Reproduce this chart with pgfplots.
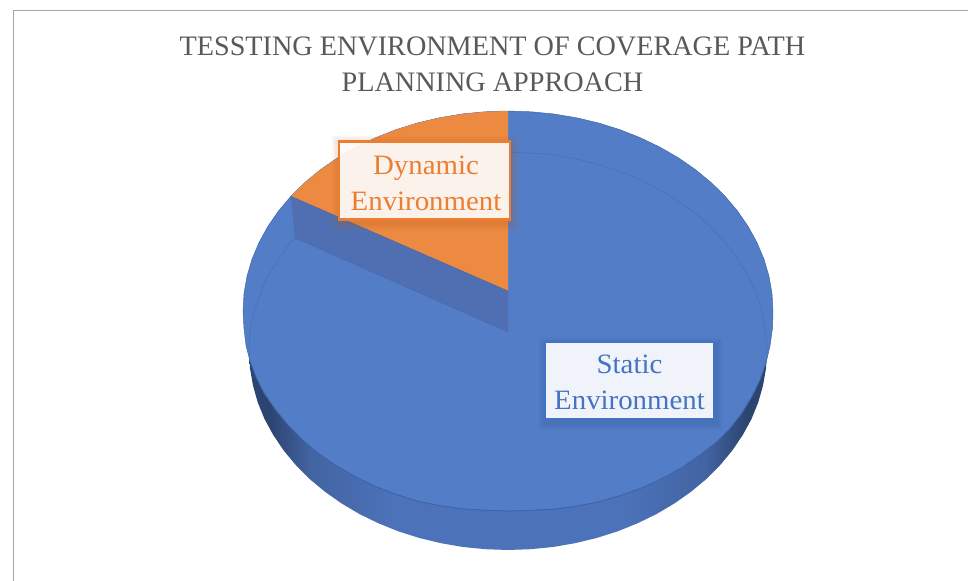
\documentclass[border=0pt]{standalone}
\usepackage{pgfplots}
\pgfplotsset{compat=1.18}
\usepackage{fontspec}
\setmainfont{Liberation Serif}
\newfontfamily\lblfont[FakeStretch=1.03]{Liberation Serif}
\definecolor{topblue}{HTML}{537EC7}
\definecolor{wallblue}{HTML}{4F6FB2}
\definecolor{rimblue}{HTML}{3D64A9}
\definecolor{pieorange}{HTML}{EC8A42}
\definecolor{lblorange}{HTML}{ED7D31}
\definecolor{lblblue}{HTML}{4472C4}
\definecolor{sdark}{HTML}{2C4470}
\definecolor{smid}{HTML}{4C72B9}
\definecolor{titlegray}{HTML}{595959}
\pgfdeclarehorizontalshading{pieside}{100bp}{
 color(0bp)=(sdark); color(25bp)=(sdark); color(27bp)=(sdark); color(31bp)=(smid!70!sdark); color(39bp)=(smid);
 color(61bp)=(smid); color(69bp)=(smid!70!sdark); color(73bp)=(sdark); color(75bp)=(sdark); color(100bp)=(sdark)}
\begin{document}
\begin{tikzpicture}
\useasboundingbox (0,0) rectangle (726pt,435.75pt);
\begin{axis}[
  at={(0,0)}, anchor=south west,
  scale only axis, width=726pt, height=435.75pt,
  xmin=0, xmax=968, ymin=0, ymax=581, y dir=reverse,
  axis lines=none, clip=true]
% chart frame
\addplot[color=black!35, line width=1.1pt] coordinates {(13.5,581) (13.5,10.5) (968,10.5)};
% side wall (lower half of the bottom rim)
\addplot[draw=none, shade, shading=pieside] coordinates {
(767,351)(766,368.4)(763,385.6)(758.2,402.5)(751.5,419)(742.7,435.1)(732.3,450.5)(720.2,465.1)(706.4,479)(691.1,491.7)(674.5,503.4)(656.6,514)(637.5,523.3)(617.5,531.4)(596.6,538)(575,543.2)(553,547)(530.6,549.2)(508,550)
(485.4,549.2)(463,547)(441,543.2)(419.4,538)(398.5,531.4)(378.5,523.3)(359.4,514)(341.5,503.4)(324.9,491.7)(309.6,479)(295.8,465.1)(283.7,450.5)(273.3,435.1)(264.5,419)(257.8,402.5)(253,385.6)(250,368.4)(249,351)
} -- cycle;
% top face: Static Environment
\addplot[fill=topblue, draw=rimblue, line width=0.35pt] coordinates {
(508,111)(531.1,111.8)(554,114)(576.6,117.8)(598.6,123)(620,129.7)(640.5,137.8)(660,147.2)(678.4,157.8)(695.4,169.6)(711,182.4)(725.1,196.3)(737.5,211)(748.2,226.5)(757,242.6)(764,259.2)(769,276.3)(772,293.6)(773,311)
(772.5,328)(770,346)(766,363)(760,380)(752,396.5)(742,413)(730,428.5)(716,442.5)(700,455)(682,467.5)(663,478)(643,487.5)(622,495)(600,501.5)(577.5,506)(554.5,509)(531.1,510.4)(508,511)
(484.9,510.2)(461.8,508.8)(439,505.5)(417,501)(395,494)(374.5,486)(355,476.5)(336,465.5)(318,453)(302,439.5)(287.5,424.5)(275,409)(264,393)(256,377)(250,361)(246,345.5)(244,328.4)(243,311)
(244,293.6)(247,276.3)(252,259.2)(259,242.6)(267.8,226.5)(278.5,211)(290.9,196.3)(305,182.4)(320.6,169.6)(337.6,157.8)(356,147.2)(375.5,137.8)(396,129.7)(417.4,123)(439.4,117.8)(462,114)(484.9,111.8)
} -- cycle;
% faint back rim seen through the face
\addplot[color=rimblue!55!topblue, line width=0.4pt, smooth] coordinates {
(250,361)(249,351)(250,333.6)(253,316.4)(264.5,283)(283.7,251.5)(295,238)};
\addplot[color=rimblue!55!topblue, line width=0.4pt, smooth] coordinates {
(508,152)(553,155)(596.6,164)(637.5,178.7)(674.5,198.6)(706.4,223)(732.3,251.5)(751.5,283)(763,316.4)(767,351)(766,363)};
% wall of the cut-out slice
\addplot[fill=wallblue, draw=none] coordinates {(290.9,196.3)(508,291)(508,332)(295,238)} -- cycle;
\addplot[color=rimblue!70!topblue, line width=0.3pt] coordinates {(295,238)(508,332)};
\addplot[color=wallblue!85!topblue, line width=0.3pt] coordinates {(290.9,196.3)(295,238)};
% slice: Dynamic Environment
\addplot[fill=pieorange, draw=none] coordinates {
(508,291)(290.9,196.3)(305,182.4)(320.6,169.6)(337.6,157.8)(356,147.2)(375.5,137.8)(396,129.7)(417.4,123)(439.4,117.8)(462,114)(484.9,111.8)(508,111)
} -- cycle;
\addplot[color=rimblue, line width=0.35pt] coordinates {(290.9,196.3)(508,291)};
% rim line in front
\addplot[color=rimblue, line width=0.5pt] coordinates {
(250,361)(256,377)(264,393)(275,409)(287.5,424.5)(302,439.5)(318,453)(336,465.5)(355,476.5)(374.5,486)(395,494)(417,501)(439,505.5)(461.8,508.8)(484.9,510.2)(508,511)(531.1,510.4)(554.5,509)(577.5,506)(600,501.5)(622,495)(643,487.5)(663,478)(682,467.5)(700,455)(716,442.5)(730,428.5)(742,413)(752,396.5)(760,380)(766,363)};
% title
\node[align=center, text=titlegray, font=\fontsize{21.15}{27}\selectfont] at (axis cs:492.5,64) {TESSTING ENVIRONMENT OF COVERAGE PATH\\PLANNING APPROACH};
% soft shadows of the labels
\foreach \e in {7,5.5,4,2.5,1}{
  \edef\tmp{\noexpand\fill[lblorange!75!black, opacity=.05] (axis cs:{338-\e+1},{140-\e+3}) rectangle (axis cs:{511+\e+1},{221+\e+3});}\tmp
  \edef\tmp{\noexpand\fill[rimblue!85!black, opacity=.06] (axis cs:{544-\e+1},{341-\e+3}) rectangle (axis cs:{715+\e+1},{420+\e+3});}\tmp
}
% data labels
\node[draw=lblorange, line width=1.8pt, fill=white, fill opacity=.9, minimum width=128pt, minimum height=58.5pt, inner sep=0pt] at (axis cs:424.5,180.5) {};
\node[text=lblorange, align=center, inner sep=0pt, font=\lblfont\fontsize{21}{27}\selectfont] at (axis cs:426,183) {Dynamic\\Environment};
\node[draw=lblblue, line width=1.1pt, fill=white, fill opacity=.92, minimum width=127pt, minimum height=58pt, inner sep=0pt] at (axis cs:629.5,380.5) {};
\node[text=lblblue, align=center, inner sep=0pt, font=\lblfont\fontsize{21}{27}\selectfont] at (axis cs:629.5,382) {Static\\Environment};
\end{axis}
\end{tikzpicture}
\end{document}
